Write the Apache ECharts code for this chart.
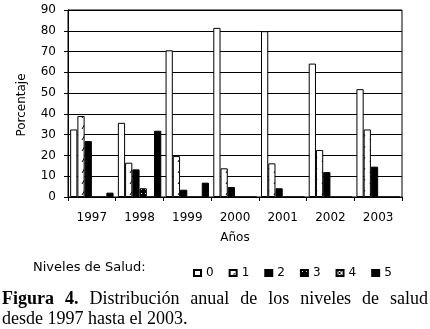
<!DOCTYPE html>
<html>
<head>
<meta charset="utf-8">
<script src="https://cdn.jsdelivr.net/npm/echarts@6/dist/echarts.min.js"></script>
<style>
  html, body { margin: 0; padding: 0; background: #fff; }
  #chart { width: 430px; height: 329px; }
</style>
</head>
<body>
<div id="chart"></div>
<script>
// datos (porcentaje por nivel de salud)
var anios = ['1997', '1998', '1999', '2000', '2001', '2002', '2003'];
var nivel0 = [32.5, 35.7, 70.6, 81.4, 79.8, 64.2, 51.9];
var nivel1 = [39, 16.5, 19.7, 13.8, 16.2, 22.6, 32.5];
var nivel2 = [26.9, 13.3, 3.5, 4.8, 4.2, 12, 14.6];
var nivel3 = [0, 4.2, 0, 0, 0, 0, 0];
var nivel4 = [0, 0, 0, 0, 0, 0, 0];
var nivel5 = [2.1, 31.9, 6.9, 0, 0, 0, 0];
var ticksY = { min: 0, max: 90, step: 10 };

var fuente = '"DejaVu Sans", sans-serif';
var serif = '"Liberation Serif", "DejaVu Serif", serif';

// tramas para las barras
function trama(w, h, dibujar) {
    var c = document.createElement('canvas');
    c.width = w; c.height = h;
    var ctx = c.getContext('2d');
    dibujar(ctx);
    return { image: c, repeat: 'repeat' };
}
var tramaRayas = trama(8, 11, function (ctx) {
    ctx.fillStyle = '#fff'; ctx.fillRect(0, 0, 8, 11);
    ctx.strokeStyle = '#000'; ctx.lineWidth = 1;
    ctx.beginPath(); ctx.moveTo(2, 8); ctx.lineTo(5, 3); ctx.stroke();
});
var tramaPuntos = trama(4, 4, function (ctx) {
    ctx.fillStyle = '#000'; ctx.fillRect(0, 0, 4, 4);
    ctx.fillStyle = '#fff'; ctx.fillRect(1, 1, 1, 1);
});
var tramaCruz = trama(6, 6, function (ctx) {
    ctx.fillStyle = '#fff'; ctx.fillRect(0, 0, 6, 6);
    ctx.strokeStyle = '#000'; ctx.lineWidth = 1;
    ctx.beginPath(); ctx.moveTo(0, 0); ctx.lineTo(6, 6);
    ctx.moveTo(6, 0); ctx.lineTo(0, 6); ctx.stroke();
});

function serie(nombre, datos, color) {
    return {
        name: nombre,
        type: 'bar',
        data: datos,
        barGap: '0%',
        barCategoryGap: '9%',
        itemStyle: { color: color, borderColor: '#000', borderWidth: 1 },
        emphasis: { disabled: true }
    };
}

// texto del pie de figura justificado
var medidor = document.createElement('canvas').getContext('2d');
function lineaJustificada(palabras, y, x0, x1) {
    var anchos = palabras.map(function (p) {
        medidor.font = (p.bold ? 'bold ' : '') + '18px ' + serif;
        return medidor.measureText(p.t).width;
    });
    var total = anchos.reduce(function (a, b) { return a + b; }, 0);
    var hueco = (x1 - x0 - total) / (palabras.length - 1);
    var x = x0;
    return palabras.map(function (p, i) {
        var el = {
            type: 'text', left: x, top: y,
            style: { text: p.t, font: (p.bold ? 'bold ' : '') + '18px ' + serif, fill: '#000' }
        };
        x += anchos[i] + hueco;
        return el;
    });
}
var linea1 = lineaJustificada([
    { t: 'Figura', bold: true }, { t: '4.', bold: true }, { t: 'Distribución' }, { t: 'anual' },
    { t: 'de' }, { t: 'los' }, { t: 'niveles' }, { t: 'de' }, { t: 'salud' }
], 290, 2, 428);

var option = {
    animation: false,
    textStyle: { fontFamily: fuente, color: '#000' },
    grid: {
        left: 68, right: 28, top: 10, bottom: 132,
        show: true, borderColor: '#000', borderWidth: 1
    },
    legend: {
        left: 188, top: 262,
        itemWidth: 7, itemHeight: 6, itemGap: 15,
        icon: 'rect',
        textStyle: { fontFamily: fuente, fontSize: 12, color: '#000' },
        selectedMode: false
    },
    xAxis: {
        type: 'category',
        data: anios,
        axisLine: { lineStyle: { color: '#000', width: 1 } },
        axisTick: { show: true, length: 4, lineStyle: { color: '#000' } },
        axisLabel: { fontSize: 12, color: '#000', margin: 15 }
    },
    yAxis: {
        type: 'value',
        min: ticksY.min, max: ticksY.max, interval: ticksY.step,
        axisLine: { show: true, lineStyle: { color: '#000', width: 1 } },
        axisTick: { show: true, length: 4, lineStyle: { color: '#000' } },
        axisLabel: { fontSize: 12, color: '#000', margin: 12 },
        splitLine: { lineStyle: { color: '#000', width: 1 } }
    },
    graphic: [
        { type: 'text', x: 22, y: 105, rotation: Math.PI / 2,
          style: { text: 'Porcentaje', font: '12px ' + fuente, fill: '#000', align: 'center', verticalAlign: 'middle' } },
        { type: 'text', x: 235, y: 238,
          style: { text: 'Años', font: '12px ' + fuente, fill: '#000', align: 'center', verticalAlign: 'middle' } },
        { type: 'text', x: 33, y: 268,
          style: { text: 'Niveles de Salud:', font: '13px ' + fuente, fill: '#000', verticalAlign: 'middle' } },
        { type: 'text', left: 2, top: 310,
          style: { text: 'desde 1997 hasta el 2003.', font: '18px ' + serif, fill: '#000' } }
    ].concat(linea1),
    series: [
        serie('0', nivel0, '#fff'),
        serie('1', nivel1, tramaRayas),
        serie('2', nivel2, '#000'),
        serie('3', nivel3, tramaPuntos),
        serie('4', nivel4, tramaCruz),
        serie('5', nivel5, '#000')
    ]
};

var myChart = echarts.init(document.getElementById('chart'));
myChart.setOption(option);
</script>
</body>
</html>
